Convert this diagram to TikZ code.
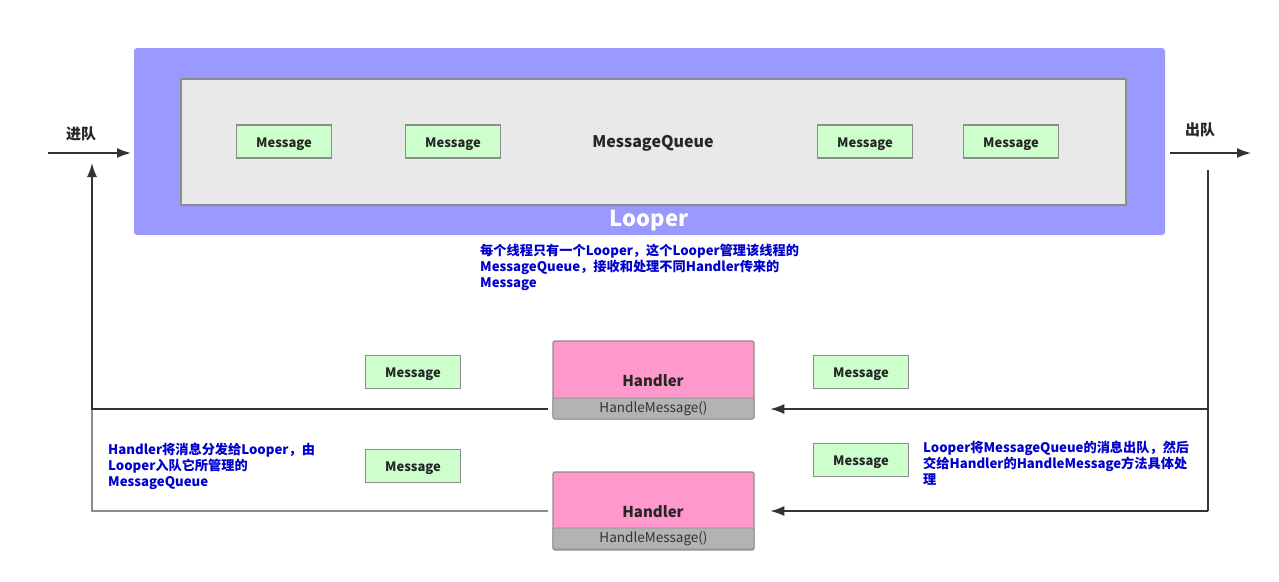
\documentclass[tikz,border=0pt]{standalone}
\usepackage{fontspec}
\newfontfamily\cjk{Noto Sans CJK SC}
\usetikzlibrary{arrows.meta}
\definecolor{looperblue}{HTML}{9999FF}
\definecolor{queuegray}{HTML}{E9E9E9}
\definecolor{msggreen}{HTML}{CCFFCC}
\definecolor{bordergray}{HTML}{8C8C8C}
\definecolor{handlerpink}{HTML}{FF99CC}
\definecolor{methodgray}{HTML}{B3B3B3}
\definecolor{notecolor}{HTML}{0000CC}
\definecolor{linedark}{HTML}{333333}
\tikzset{
  msg/.style={draw=bordergray, line width=1.6pt, fill=msggreen, minimum width=95pt, minimum height=33pt, inner sep=0pt, font=\cjk\bfseries\fontsize{13}{15}\selectfont, text=black!85, text depth=0pt, text height=11pt},
  handlerbox/.style={draw=bordergray, line width=1.2pt, fill=handlerpink, rounded corners=2pt, minimum width=201pt, minimum height=78pt, inner sep=0pt},
  methodbox/.style={fill=methodgray, draw=bordergray, line width=0.6pt, rounded corners=2pt, minimum width=201pt, minimum height=21pt, inner sep=0pt, font=\cjk\fontsize{13.5}{15}\selectfont, text=black!80},
  note/.style={anchor=north west, align=left, inner sep=0pt, text=notecolor, font=\cjk\bfseries\fontsize{13.2}{16}\selectfont},
  conn/.style={draw=linedark, line width=1.6pt},
  arr/.style={conn, -{Latex[length=14pt,width=10pt]}},
}
\begin{document}
\begin{tikzpicture}[x=1pt,y=-1pt]
\useasboundingbox (0,0) rectangle (1279,581);
% Looper
\node[fill=looperblue, rounded corners=3pt, minimum width=1031pt, minimum height=187pt, inner sep=0pt] (looper) at (649.5,141.5) {};
\node[text=white, font=\cjk\bfseries\fontsize{22}{24}\selectfont] (lt) at (649,221) {Looper};
% MessageQueue
\node[draw=bordergray, line width=1.6pt, fill=queuegray, minimum width=945pt, minimum height=126pt, inner sep=0pt] (queue) at (653.5,142) {};
\node[font=\cjk\bfseries\fontsize{16}{18}\selectfont, text=black!85] (qt) at (653,143) {MessageQueue};
\node[msg] (q1) at (284,141.5) {Message};
\node[msg] (q2) at (453,141.5) {Message};
\node[msg] (q3) at (865,141.5) {Message};
\node[msg] (q4) at (1011,141.5) {Message};
% enqueue / dequeue
\node[font=\cjk\bfseries\fontsize{15}{17}\selectfont, text=black!85] (inlabel) at (81,134) {进队};
\node[font=\cjk\bfseries\fontsize{15}{17}\selectfont, text=black!85] (outlabel) at (1200,130) {出队};
\coordinate (inA) at (48,153);
\coordinate (inB) at (131,153);
\coordinate (outA) at (1170,153);
\coordinate (outB) at (1251,153);
\draw[arr] (inA) -- (inB);
\draw[arr] (outA) -- (outB);
% note
\node[note] (n1) at (480,244) {每个线程只有一个Looper，这个Looper管理该线程的\\MessageQueue，接收和处理不同Handler传来的\\Message};
% Handlers
\node[handlerbox] (h1) at (653.5,380) {};
\node[font=\cjk\bfseries\fontsize{15}{17}\selectfont, text=black!85] (h1t) at (653,381) {Handler};
\node[methodbox] (h1m) at (653.5,408.5) {HandleMessage()};
\node[handlerbox] (h2) at (653.5,511) {};
\node[font=\cjk\bfseries\fontsize{15}{17}\selectfont, text=black!85] (h2t) at (653,512) {Handler};
\node[methodbox] (h2m) at (653.5,538.5) {HandleMessage()};
% floating messages
\node[msg] (m1) at (413,372) {Message};
\node[msg] (m2) at (861,372) {Message};
\node[msg] (m3) at (413,466) {Message};
\node[msg] (m4) at (861,460) {Message};
% notes
\node[note] (n2) at (108,443) {Handler将消息分发给Looper，由\\Looper入队它所管理的\\MessageQueue};
\node[note] (n3) at (923,441) {Looper将MessageQueue的消息出队，然后\\交给Handler的HandleMessage方法具体处\\理};
% left path
\coordinate (l1) at (92,409);
\coordinate (l2) at (92,511);
\coordinate (lup) at (92,163);
\draw[conn, draw=black!45] ([xshift=-5pt]h2m.west |- l2) -- (l2) -- (l1);
\draw[arr] ([xshift=-5pt]h1m.west |- l1) -- (l1) -- (lup);
% right path
\coordinate (r0) at (1208,170);
\coordinate (r1) at (1208,409);
\coordinate (r2) at (1208,511);
\draw[conn] (r0) -- (r2);
\draw[arr] (r1) -- ([xshift=16pt]h1m.east |- r1);
\draw[arr] (r2) -- ([xshift=16pt]h2m.east |- r2);
\end{tikzpicture}
\end{document}
